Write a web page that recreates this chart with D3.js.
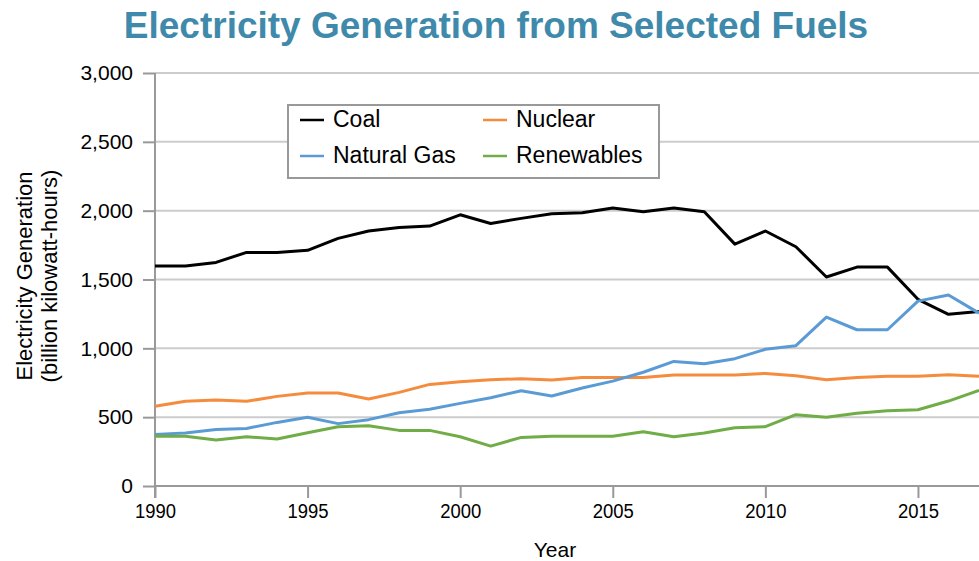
<!DOCTYPE html>
<html>
<head>
<meta charset="utf-8">
<script src="https://cdn.jsdelivr.net/npm/d3@7"></script>
<style>
  body { margin: 0; background: #fff; }
  svg text { font-family: "Liberation Sans", Arial, sans-serif; }
</style>
</head>
<body>
<svg id="chart" width="979" height="561"></svg>
<script>
// data (billion kWh)
var years = d3.range(1990, 2018);
var coal = [1598, 1598, 1624, 1697, 1697, 1712, 1799, 1852, 1878, 1888, 1970, 1907, 1944, 1978, 1985, 2019,
            1992, 2019, 1992, 1757, 1852, 1738, 1518, 1590, 1590, 1356, 1247, 1268];
var nuclear = [579, 615, 625, 615, 651, 675, 675, 632, 680, 738, 758, 772, 779, 770, 789, 789,
               789, 806, 806, 806, 818, 801, 772, 789, 797, 797, 808, 797];
var gas = [375, 385, 410, 418, 462, 499, 453, 482, 532, 558, 600, 641, 692, 654, 712, 762,
           826, 905, 888, 925, 993, 1019, 1227, 1135, 1135, 1343, 1387, 1256];
var renew = [361, 361, 334, 358, 341, 387, 431, 438, 404, 404, 358, 290, 353, 361, 361, 361,
             394, 358, 385, 423, 431, 518, 499, 528, 547, 554, 617, 695];
var yTicks = [0, 500, 1000, 1500, 2000, 2500, 3000];
var xTicks = [1990, 1995, 2000, 2005, 2010, 2015];

var series = [
  {name: "Coal", values: coal, color: "#000000"},
  {name: "Nuclear", values: nuclear, color: "#f58b3d"},
  {name: "Natural Gas", values: gas, color: "#5b9bd5"},
  {name: "Renewables", values: renew, color: "#70ad47"}
];

var svg = d3.select("#chart");
var plotLeft = 155, plotRight = 979, plotTop = 73, plotBottom = 486;

var x = d3.scaleLinear().domain([1990, 2017]).range([plotLeft, plotRight]);
var y = d3.scaleLinear().domain([0, 3000]).range([plotBottom, plotTop]);

// title
svg.append("text")
    .attr("x", 496).attr("y", 38)
    .attr("text-anchor", "middle")
    .style("font-size", "37px").style("font-weight", "bold")
    .style("fill", "#3f8aab")
    .text("Electricity Generation from Selected Fuels");

// gridlines
svg.append("g").selectAll("line")
    .data(yTicks.filter(function(d) { return d > 0; }))
    .enter().append("line")
    .attr("x1", plotLeft).attr("x2", plotRight)
    .attr("y1", function(d) { return y(d); })
    .attr("y2", function(d) { return y(d); })
    .style("stroke", "#cccccc").style("stroke-width", 2);

// y axis
var yAxis = svg.append("g")
    .attr("transform", "translate(" + plotLeft + ",0)")
    .call(d3.axisLeft(y).tickValues(yTicks).tickSize(12).tickPadding(10)
          .tickFormat(d3.format(",")));
yAxis.select(".domain").remove();
yAxis.selectAll("line").style("stroke", "#999").style("stroke-width", 2);
yAxis.selectAll("text").style("font-size", "21px").style("fill", "#000");
yAxis.append("line")
    .attr("x1", 0).attr("x2", 0).attr("y1", plotTop).attr("y2", plotBottom + 12)
    .style("stroke", "#999").style("stroke-width", 2);

// x axis
var xAxis = svg.append("g")
    .attr("transform", "translate(0," + plotBottom + ")")
    .call(d3.axisBottom(x).tickValues(xTicks).tickSize(12).tickPadding(5)
          .tickFormat(d3.format("d")));
xAxis.select(".domain").remove();
xAxis.selectAll("line").style("stroke", "#999").style("stroke-width", 2);
xAxis.selectAll("text").style("font-size", "21px").style("fill", "#000")
    .attr("transform", "scale(0.88,1)");
xAxis.append("line")
    .attr("x1", plotLeft).attr("x2", plotRight).attr("y1", 0).attr("y2", 0)
    .style("stroke", "#999").style("stroke-width", 2);

// axis titles
svg.append("text")
    .attr("x", 555).attr("y", 557)
    .attr("text-anchor", "middle")
    .style("font-size", "21px")
    .text("Year");

var yTitle = svg.append("text")
    .attr("transform", "translate(32,276) rotate(-90)")
    .attr("text-anchor", "middle")
    .style("font-size", "22px");
yTitle.append("tspan").attr("x", 0).attr("y", 0).text("Electricity Generation");
yTitle.append("tspan").attr("x", 0).attr("y", 25).text("(billion kilowatt-hours)");

// lines
var line = d3.line()
    .x(function(d, i) { return x(years[i]); })
    .y(function(d) { return y(d); });

svg.append("g").selectAll("path")
    .data(series)
    .enter().append("path")
    .attr("d", function(d) { return line(d.values); })
    .style("fill", "none")
    .style("stroke", function(d) { return d.color; })
    .style("stroke-width", 3)
    .style("stroke-linejoin", "round");

// legend
var legend = svg.append("g");
legend.append("rect")
    .attr("x", 288).attr("y", 105).attr("width", 371).attr("height", 73)
    .style("fill", "#fff").style("stroke", "#999").style("stroke-width", 2);

var legendPos = [
  {x: 300, y: 127}, {x: 483, y: 127}, {x: 300, y: 163}, {x: 483, y: 163}
];
var items = legend.selectAll("g.item")
    .data(series)
    .enter().append("g")
    .attr("class", "item")
    .attr("transform", function(d, i) {
        return "translate(" + legendPos[i].x + "," + legendPos[i].y + ")";
    });
items.append("line")
    .attr("x1", 0).attr("x2", 24).attr("y1", -7).attr("y2", -7)
    .style("stroke", function(d) { return d.color; })
    .style("stroke-width", 2.5);
items.append("text")
    .attr("x", 33).attr("y", 0)
    .style("font-size", "23px")
    .text(function(d) { return d.name; });
</script>
</body>
</html>
